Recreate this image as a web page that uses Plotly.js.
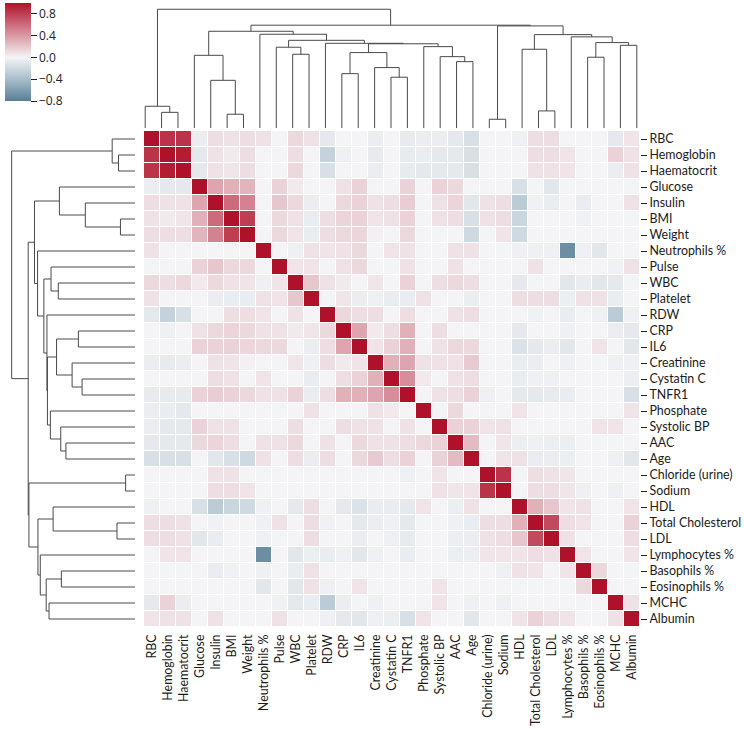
<!DOCTYPE html>
<html><head><meta charset="utf-8">
<script src="https://cdn.plot.ly/plotly-3.0.1.min.js"></script>
<style>html,body{margin:0;padding:0;background:#fff}</style>
</head><body><div id="chart" style="width:744px;height:729px"></div>
<script>
const labels = ["RBC","Hemoglobin","Haematocrit","Glucose","Insulin","BMI","Weight","Neutrophils %","Pulse","WBC","Platelet","RDW","CRP","IL6","Creatinine","Cystatin C","TNFR1","Phosphate","Systolic BP","AAC","Age","Chloride (urine)","Sodium","HDL","Total Cholesterol","LDL","Lymphocytes %","Basophils %","Eosinophils %","MCHC","Albumin"];

// lower triangle of the correlation matrix (row r holds columns 0..r-1)
const lowerTri = [
 [],
 [0.85],
 [0.85,0.95],
 [-0.05,-0.08,-0.08],
 [0.10,0.08,0.08,0.35],
 [0.08,0.05,0.06,0.30,0.60],
 [0.10,0.10,0.10,0.28,0.50,0.80],
 [0.08,0,0,0,0,0,0],
 [0,0,0,0.15,0.20,0.12,0.12,0],
 [0.12,0.10,0.12,0.05,0.12,0.08,0.07,-0.03,0.07],
 [0.08,0,0,0,-0.05,-0.06,-0.06,0.08,0.07,0.20],
 [-0.08,-0.25,-0.15,0,0,0.10,0.10,0.07,0,0.08,0],
 [0,-0.03,0,0.08,0.12,0.14,0.12,0.08,0.08,0.05,0.06,0.12],
 [0,0,0,0.15,0.15,0.15,0.13,0.12,0.12,0,-0.05,0.10,0.35],
 [-0.05,-0.07,-0.05,0,0.08,0.07,0.02,0,0,0.06,-0.03,0.10,0.05,0.07],
 [0,0,0,0,0.10,0.08,0,0.07,0,0,-0.06,0,0.10,0.15,0.30],
 [-0.07,-0.07,-0.07,0.15,0.17,0.15,0.12,0.08,0.08,0.15,-0.06,0.10,0.30,0.30,0.35,0.45],
 [-0.05,-0.06,-0.08,0,0,0,0,0,0,0,0.08,0,0,0,0.08,0.05,0],
 [-0.05,-0.08,-0.08,0.15,0.08,0.08,0,0,0,0.10,0,0,0.10,0.08,0.08,0,0.08,0],
 [-0.08,-0.08,-0.08,0.12,0.14,0.10,0,0.08,0.08,0.12,0,0.08,0,0.12,0.08,0.08,0.10,0.12,0.15],
 [-0.15,-0.15,-0.15,0,-0.10,-0.15,-0.20,0.08,0,0.10,-0.05,0.10,0,0.12,0.18,0.10,0.15,0,0.15,0.25],
 [0,0,0,0,0.08,0.08,0,0,0,0,0,0,0,0,0,0,-0.03,0,0.07,0,0],
 [0,0,0,0,0.10,0.10,0.07,0,0,0,0,0,0,0,0,0,0,0,0.08,0.06,0.07,0.85],
 [-0.03,0,0,-0.15,-0.30,-0.22,-0.20,-0.03,0,-0.08,0.10,0,-0.08,-0.13,-0.06,-0.06,-0.08,0.07,0,-0.04,0.08,0,0],
 [0.10,0.10,0.08,0,-0.02,0,0,-0.03,0.08,0,0.10,-0.02,0,-0.08,-0.05,-0.03,-0.08,0,0,-0.03,-0.06,0.10,0.10,0.30],
 [0.10,0.10,0.08,-0.10,-0.06,0,0,-0.03,0,0,0.10,0,0,-0.05,0,-0.03,-0.07,0,0,-0.04,-0.05,0.08,0.10,0.20,0.75],
 [0,0.07,0.07,0,0,0,0,-0.70,0,-0.10,-0.04,-0.06,-0.03,-0.10,-0.03,0,-0.06,0,0,-0.04,-0.04,0.06,0.06,0.07,0.10,0.08],
 [0,0,0,0,-0.06,-0.02,0,-0.03,0,-0.06,0.08,0,0,0,0,0,0,0,0,0,0,0,-0.03,0.08,0.07,0,0.07],
 [0,0,0,0,0,0,0,-0.10,0,-0.10,0.08,-0.03,0,0.07,0,0,0,0,0.07,0,0,0,0,0,0,0,0,0.12],
 [-0.08,0.15,-0.05,0,0,0,0,0,-0.02,-0.08,-0.06,-0.30,-0.05,0,-0.03,0,0,0,0.07,0,-0.03,0,-0.03,0,0,0,0,0,0],
 [0.07,0.08,0.08,0,0.08,0,0,0,0.08,0,0,-0.03,-0.08,-0.10,-0.03,-0.04,-0.15,0.07,0,0,-0.10,0,0,0.07,0.15,0.10,0.07,0,0,0.08]
];

// hierarchical linkage in leaf display order: [childA, childB, height]; ids >= 31 are earlier merges
const linkage = [
 [1,2,0.134],[0,31,0.185],[5,6,0.118],[4,33,0.403],[3,34,0.613],
 [9,10,0.622],[8,36,0.681],[12,13,0.459],[15,16,0.429],[14,39,0.510],
 [38,40,0.636],[19,20,0.560],[18,42,0.602],[17,43,0.686],[41,44,0.710],
 [11,45,0.714],[37,46,0.739],[7,47,0.790],[35,48,0.815],[21,22,0.076],
 [24,25,0.146],[23,51,0.664],[27,28,0.597],[29,30,0.697],[53,54,0.720],
 [26,55,0.768],[52,56,0.787],[50,57,0.860],[49,58,0.866],[32,59,1.0]
];

const cbTickVals = [-0.8,-0.4,0,0.4,0.8];
const cbTickText = ["\u22120.8","\u22120.4","0.0","0.4","0.8"];

const n = labels.length;
const z = [];
for (let r = 0; r < n; r++) {
  const row = [];
  for (let c = 0; c < n; c++) {
    row.push(r === c ? 1 : (c < r ? lowerTri[r][c] : lowerTri[c][r]));
  }
  z.push(row);
}
const idx = labels.map((_, i) => i);

// dendrogram segments computed from linkage
const pos = idx.slice(), hgt = idx.map(() => 0);
const segP = [], segH = [];
linkage.forEach((m, k) => {
  const [a, b, h] = m, id = n + k;
  pos[id] = (pos[a] + pos[b]) / 2; hgt[id] = h;
  segP.push(pos[a], pos[a], pos[b], pos[b], null);
  segH.push(hgt[a], h, h, hgt[b], null);
});

const W = 744, H = 729;
const fx = p => p / W, fy = p => 1 - p / H;
const lineStyle = {color: '#4a4a4a', width: 1};
const font = {family: 'Lato, sans-serif', size: 12.4, color: '#1a1a1a'};

const cmin = -0.8, cmax = 1.0;
const nv = v => (v - cmin) / (cmax - cmin);
const colorscale = [
  [0, 'rgb(88,126,149)'],
  [nv(-0.4), 'rgb(168,190,203)'],
  [nv(0), 'rgb(244,244,246)'],
  [nv(0.5), 'rgb(212,130,145)'],
  [1, 'rgb(176,17,42)']
];

const traces = [
  {
    type: 'heatmap', x: idx, y: idx, z: z, zmin: cmin, zmax: cmax,
    colorscale: colorscale, xgap: 1, ygap: 1, hoverinfo: 'skip',
    colorbar: {
      x: fx(5), xanchor: 'left', y: fy(3), yanchor: 'top',
      len: 98, lenmode: 'pixels', thickness: 26, thicknessmode: 'pixels',
      xpad: 0, ypad: 0, outlinewidth: 0,
      ticks: 'outside', ticklen: 6, tickwidth: 1, tickcolor: '#222',
      tickvals: cbTickVals, ticktext: cbTickText,
      tickfont: {family: 'Open Sans, sans-serif', size: 12, color: '#222'}
    }
  },
  {type: 'scatter', mode: 'lines', x: segP, y: segH, xaxis: 'x2', yaxis: 'y2',
   line: lineStyle, hoverinfo: 'skip', showlegend: false, connectgaps: false},
  {type: 'scatter', mode: 'lines', x: segH, y: segP, xaxis: 'x3', yaxis: 'y3',
   line: lineStyle, hoverinfo: 'skip', showlegend: false, connectgaps: false}
];

const hidden = {showgrid: false, zeroline: false, showticklabels: false, ticks: '', showline: false, fixedrange: true};
const layout = {
  width: W, height: H, margin: {l: 0, r: 0, t: 0, b: 0},
  paper_bgcolor: '#fff', plot_bgcolor: '#fff', showlegend: false,
  font: font,
  xaxis: {domain: [fx(144), fx(640)], range: [-0.5, n - 0.5], tickvals: idx, ticktext: labels,
          tickangle: -90, ticks: '', ticklabelstandoff: 4, showgrid: false, zeroline: false,
          tickfont: font, automargin: false},
  yaxis: {domain: [fy(627), fy(131)], range: [n - 0.5, -0.5], tickvals: idx, ticktext: labels,
          side: 'right', ticks: 'outside', ticklen: 6, tickwidth: 1, tickcolor: '#222',
          ticklabelstandoff: 0, showgrid: false, zeroline: false, tickfont: font, automargin: false},
  xaxis2: Object.assign({domain: [fx(137), fx(645)], range: [-0.5, n - 0.5], anchor: 'y2'}, hidden),
  yaxis2: Object.assign({domain: [fy(128.3), fy(3.3)], range: [0, 1.05], anchor: 'x2'}, hidden),
  xaxis3: Object.assign({domain: [fx(5.5), fx(135)], range: [1.05, 0], anchor: 'y3'}, hidden),
  yaxis3: Object.assign({domain: [fy(627), fy(131)], range: [n - 0.5, -0.5], anchor: 'x3'}, hidden)
};

Plotly.newPlot('chart', traces, layout, {displayModeBar: false, staticPlot: true});
</script></body></html>
